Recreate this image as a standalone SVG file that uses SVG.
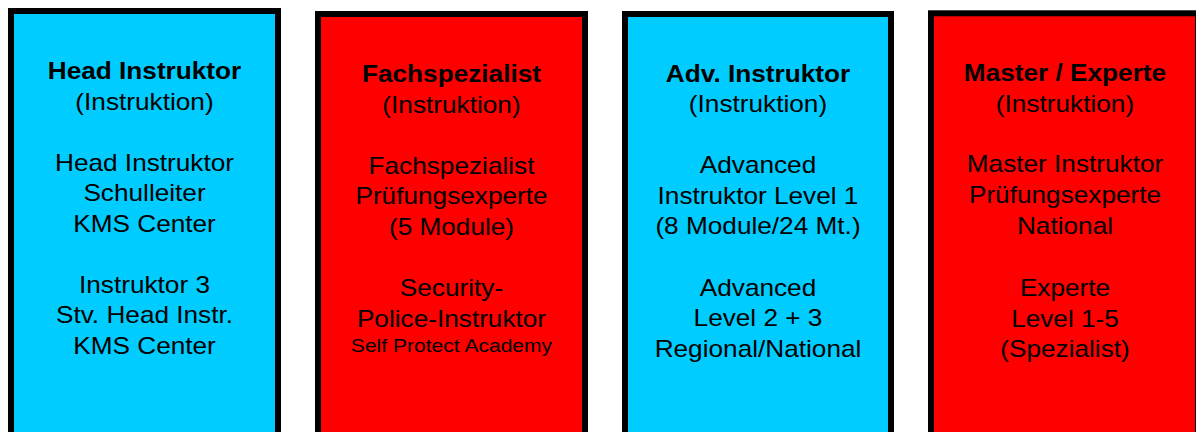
<svg xmlns="http://www.w3.org/2000/svg" width="1196" height="432" viewBox="0 0 1196 432">
<style>
.box{stroke:#000;stroke-width:6}
.cyan{fill:#00CCFF}
.red{fill:#FF0000}
text{font-family:"Liberation Sans",Arial,Helvetica,sans-serif;font-size:23px;fill:#000;text-anchor:middle}
.b{font-weight:bold}
.s{font-size:18.5px}
</style>
<rect width="1196" height="432" fill="#fff"/>
<g id="node-head-instruktor">
<rect class="box cyan" x="11" y="11" width="267" height="440"/>
<g transform="translate(144.5,0) scale(1.139,1)">
<text class="b" x="0" y="79.5">Head Instruktor</text>
<text x="0" y="110">(Instruktion)</text>
<text x="0" y="171">Head Instruktor</text>
<text x="0" y="201.5">Schulleiter</text>
<text x="0" y="232">KMS Center</text>
<text x="0" y="293">Instruktor 3</text>
<text x="0" y="323.5">Stv. Head Instr.</text>
<text x="0" y="354">KMS Center</text>
</g>
</g>
<g id="node-fachspezialist">
<rect class="box red" x="318" y="14" width="267" height="440"/>
<g transform="translate(451.5,0) scale(1.139,1)">
<text class="b" x="0" y="82.5">Fachspezialist</text>
<text x="0" y="113">(Instruktion)</text>
<text x="0" y="174">Fachspezialist</text>
<text x="0" y="204.5">Prüfungsexperte</text>
<text x="0" y="235">(5 Module)</text>
<text x="0" y="296.5">Security-</text>
<text x="0" y="327">Police-Instruktor</text>
<text class="s" x="0" y="351.7">Self Protect Academy</text>
</g>
</g>
<g id="node-adv-instruktor">
<rect class="box cyan" x="625" y="14" width="266" height="440"/>
<g transform="translate(758,0) scale(1.139,1)">
<text class="b" x="0" y="82">Adv. Instruktor</text>
<text x="0" y="112.5">(Instruktion)</text>
<text x="0" y="173.5">Advanced</text>
<text x="0" y="204">Instruktor Level 1</text>
<text x="0" y="234.5">(8 Module/24 Mt.)</text>
<text x="0" y="296">Advanced</text>
<text x="0" y="326.5">Level 2 + 3</text>
<text x="0" y="357">Regional/National</text>
</g>
</g>
<g id="node-master-experte">
<rect class="box red" x="931" y="13.3" width="267" height="440"/>
<g transform="translate(1065,0) scale(1.139,1)">
<text class="b" x="0" y="81.5">Master / Experte</text>
<text x="0" y="112.5">(Instruktion)</text>
<text x="0" y="172.5">Master Instruktor</text>
<text x="0" y="203.5">Prüfungsexperte</text>
<text x="0" y="234.3">National</text>
<text x="0" y="296">Experte</text>
<text x="0" y="326.7">Level 1-5</text>
<text x="0" y="356.7">(Spezialist)</text>
</g>
</g>
<g id="connectors"/>
</svg>
